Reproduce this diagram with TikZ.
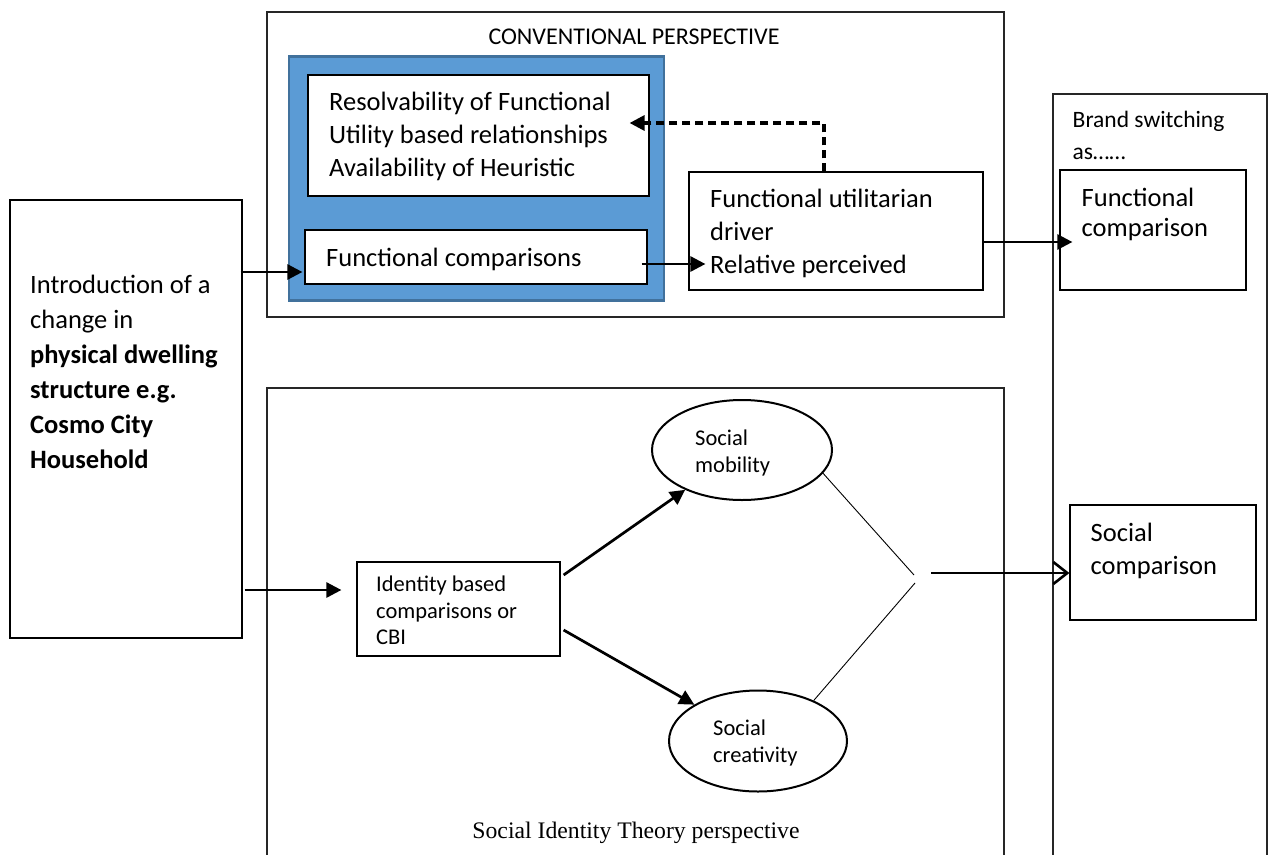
\documentclass[tikz,border=0pt]{standalone}
\usepackage{fontspec}
\setmainfont{Carlito}
\newfontfamily\captionserif{Liberation Serif}
\usetikzlibrary{arrows.meta,calc,shapes.geometric}

\definecolor{panelblue}{HTML}{5B9BD5}
\definecolor{paneledge}{HTML}{41719C}

\begin{document}
\begin{tikzpicture}[x=1pt,y=-1pt,
  frame/.style={draw=black!85, line width=1.1pt, rectangle, inner sep=0pt},
  box/.style={draw=black, line width=1.2pt, rectangle, inner sep=0pt, fill=white},
  oval/.style={draw=black, line width=2pt, ellipse, inner sep=0pt},
  % multi-line texts are placed by the baseline of their last line
  txt/.style={inner sep=0pt, align=left, anchor=base west},
  bigtxt/.style={txt, font=\fontsize{26.5}{33}\selectfont},
  introtxt/.style={txt, font=\fontsize{26.5}{35}\selectfont},
  midtxt/.style={txt, font=\fontsize{23.5}{32}\selectfont},
  smalltxt/.style={txt, font=\fontsize{22.5}{27}\selectfont},
  arr/.style={line width=2.7pt, -{Triangle[length=15pt,width=15pt]}},
  dasharr/.style={line width=3.2pt, dash pattern=on 8.5pt off 4.5pt, -{Triangle[length=15pt,width=15pt]}},
  openarr/.style={line width=2.6pt, -{Straight Barb[length=14pt,width=22pt,line width=2.6pt]}},
  thin/.style={line width=0.9pt},
]
\useasboundingbox (0,0) rectangle (1268,854);
\clip (0,0) rectangle (1268,854);

% outer frames
\node[frame, minimum width=737pt, minimum height=305pt] (conv) at (635.5,164.5) {};
\node[frame, minimum width=737pt, minimum height=482pt] (sit) at (635.5,629) {};
\node[frame, minimum width=214pt, minimum height=780pt] (brand) at (1160,484) {};

% blue panel of the conventional perspective
\node[draw=paneledge, fill=panelblue, line width=2.5pt, rectangle, inner sep=0pt,
      minimum width=375pt, minimum height=244pt] (blue) at (476.5,178.5) {};

% boxes
\node[box, minimum width=341pt, minimum height=121pt] (res) at (478.5,135.5) {};
\node[box, minimum width=342pt, minimum height=54pt] (fcomp) at (476,257) {};
\node[box, minimum width=294pt, minimum height=118pt] (futil) at (836,231) {};
\node[box, minimum width=186pt, minimum height=120pt] (fcmp) at (1153,230) {};
\node[box, minimum width=186pt, minimum height=115pt] (scmp) at (1163,562.5) {};
\node[box, minimum width=232pt, minimum height=438pt] (intro) at (126,419) {};
\node[box, minimum width=203pt, minimum height=94pt] (ident) at (458.5,609) {};
\node[oval, minimum width=180pt, minimum height=100pt] (mob) at (742,450) {};
\node[oval, minimum width=178pt, minimum height=101pt] (cre) at (758,741) {};

% texts
\node[inner sep=0pt, anchor=base, font=\fontsize{24}{29}\selectfont] (conv-t) at (634,44.5) {CONVENTIONAL PERSPECTIVE};
\node[bigtxt] (res-t) at (329,176) {Resolvability of Functional\\Utility based relationships\\Availability of Heuristic};
\node[bigtxt] (fcomp-t) at (326,266) {Functional comparisons};
\node[bigtxt] (futil-t) at (710,273) {Functional utilitarian\\driver\\Relative perceived};
\node[midtxt] (brand-t) at (1072.5,159) {Brand switching\\as\textellipsis\textellipsis};
\node[txt, font=\fontsize{26.5}{30}\selectfont] (fcmp-t) at (1081.5,236.5) {Functional\\comparison};
\node[bigtxt] (scmp-t) at (1090.5,574.5) {Social\\comparison};
\node[introtxt] (intro-t) at (30,468) {Introduction of a\\change in\\\textbf{physical dwelling}\\\textbf{structure e.g.}\\\textbf{Cosmo City}\\\textbf{Household}};
\node[txt, font=\fontsize{22.5}{26.5}\selectfont] (ident-t) at (376,644.5) {Identity based\\comparisons or\\CBI};
\node[smalltxt] (mob-t) at (695,472) {Social\\mobility};
\node[smalltxt] (cre-t) at (713,762) {Social\\creativity};
\node[inner sep=0pt, anchor=base, font=\captionserif\fontsize{23.7}{28}\selectfont] (sit-t) at (636,838) {Social Identity Theory perspective};

% connectors of the conventional perspective
\draw[arr] ($(intro.east |- fcomp.west)+(-2,15)$) -- ($(fcomp.west)+(-2,15)$);
\draw[arr] ($(fcomp.east)+(-6,7)$) -- ($(futil.west |- fcomp.east)+(17,7)$);
\draw[dasharr] ($(futil.north)+(-12,0)$) |- ($(res.east)+(-20,-12.5)$);
\draw[arr] ($(futil.east)+(0,11)$) -- ($(fcmp.west |- futil.east)+(13,11)$);

% connectors of the social identity perspective
\draw[arr] ($(intro.east)+(2,171)$) -- ($(ident.west)+(-15,-19)$);
\draw[arr] ($(ident.east)+(3,-34)$) -- (mob);
\draw[arr] ($(ident.east)+(3,21)$) -- (cre);
\coordinate (joinA) at (914,575);
\coordinate (joinB) at (915,583);
\coordinate (joinOut) at (931,573);
\draw[thin] (mob.-16) -- (joinA);
\draw[thin] (joinB) -- (cre.36);
\draw[openarr] (joinOut) -- ($(scmp.west)+(0,10.5)$);
\end{tikzpicture}
\end{document}
